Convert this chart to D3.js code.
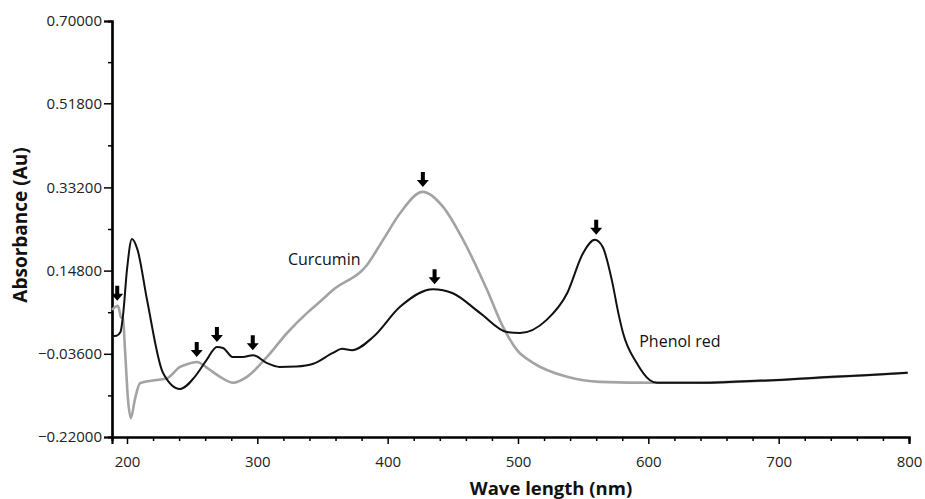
<!DOCTYPE html>
<html>
<head>
<meta charset="utf-8">
<title>absorbance</title>
<script type="text/javascript" src="https://d3js.org/d3.v7.js"></script>
<style>
  body { margin: 0; background: #fff; }
  text { font-family: "Open Sans", sans-serif; }
</style>
</head>
<body>
<script type="text/javascript">
const width = 925;
const height = 499;

// wavelength (nm) / absorbance pairs
const phenolNm = [188.5, 192, 195, 197, 200, 203.8, 208, 215.4, 227.6, 240.7, 252, 261, 269, 273.7, 281, 289, 296.7, 307, 317, 330, 343, 358, 365, 372.7, 388.8, 409.5, 434.8, 450, 471, 491.6, 501.6, 522, 537.7, 550, 559, 565, 572, 577, 580.6, 591, 601, 606.7, 640, 665, 700, 741.8, 770, 799];
const phenolAbs = [0.003, 0.004, 0.012, 0.050, 0.150, 0.218, 0.195, 0.083, -0.078, -0.114, -0.087, -0.050, -0.021, -0.023, -0.043, -0.043, -0.039, -0.056, -0.065, -0.064, -0.058, -0.034, -0.025, -0.028, 0.001, 0.068, 0.107, 0.098, 0.054, 0.012, 0.010, 0.039, 0.098, 0.187, 0.216, 0.200, 0.127, 0.054, 0.010, -0.056, -0.094, -0.100, -0.100, -0.098, -0.094, -0.087, -0.083, -0.078];

const curcuminNm = [188.5, 191, 193.1, 195.4, 196.9, 198.5, 200.8, 203, 206, 210, 223, 230.7, 240.7, 246, 253.7, 261.4, 271.4, 281.4, 292, 307.4, 322.8, 338, 348, 358, 384, 396.5, 409.5, 427, 442.5, 457.9, 476.3, 488.6, 499.3, 511.6, 537.7, 563, 606.7, 640, 665, 700, 741.8, 770, 799];
const curcuminAbs = [0.061, 0.068, 0.070, 0.045, 0.043, -0.028, -0.138, -0.178, -0.138, -0.101, -0.094, -0.090, -0.065, -0.059, -0.054, -0.067, -0.087, -0.100, -0.087, -0.043, 0.010, 0.054, 0.079, 0.105, 0.160, 0.216, 0.275, 0.322, 0.289, 0.216, 0.105, 0.023, -0.028, -0.056, -0.087, -0.098, -0.100, -0.100, -0.098, -0.094, -0.087, -0.083, -0.078];

// arrows marking the peaks
const arrowNm = [192.5, 253.5, 269, 296.5, 427, 436, 560];
const arrowAbs = [0.070, -0.054, -0.021, -0.039, 0.322, 0.107, 0.216];

const yTicks = [-0.22, -0.036, 0.148, 0.332, 0.518, 0.70];
const xTicks = [200, 300, 400, 500, 600, 700, 800];

const svg = d3.select("body")
    .append("svg")
    .attr("width", width)
    .attr("height", height);

const x = d3.scaleLinear().domain([188.5, 800]).range([112, 909]);
const y = d3.scaleLinear().domain([-0.22, 0.70]).range([437, 21]);

// minor ticks
const xMinor = d3.range(200, 801, 20).filter(d => d % 100 !== 0);
const yMinor = d3.range(5).map(i => (yTicks[i] + yTicks[i + 1]) / 2);

const xAxis = svg.append("g")
    .attr("transform", `translate(0,${y(-0.22)})`)
    .call(d3.axisBottom(x).tickValues(xTicks).tickSize(7).tickPadding(12).tickFormat(d3.format("d")));
const xAxisMinor = svg.append("g")
    .attr("transform", `translate(0,${y(-0.22)})`)
    .call(d3.axisBottom(x).tickValues(xMinor).tickSize(4).tickFormat(""));
const yAxis = svg.append("g")
    .attr("transform", `translate(${x(188.5)},0)`)
    .call(d3.axisLeft(y).tickValues(yTicks).tickSize(8).tickPadding(2).tickFormat(d3.format(".5f")));
const yAxisMinor = svg.append("g")
    .attr("transform", `translate(${x(188.5)},0)`)
    .call(d3.axisLeft(y).tickValues(yMinor).tickSize(4).tickFormat(""));

[xAxis, xAxisMinor, yAxis, yAxisMinor].forEach(g => {
  g.select(".domain").attr("stroke", "#000").attr("stroke-width", 2.2);
  g.selectAll(".tick line").attr("stroke", "#000").attr("stroke-width", 1.5);
  g.selectAll("text").attr("font-size", 15).attr("fill", "#222")
    .style("font-family", "'Open Sans', sans-serif");
});

const line = d3.line()
    .x(d => x(d[0]))
    .y(d => y(d[1]))
    .curve(d3.curveMonotoneX);

svg.append("path")
    .datum(d3.zip(curcuminNm, curcuminAbs))
    .attr("fill", "none")
    .attr("stroke", "#a3a3a3")
    .attr("stroke-width", 2.6)
    .attr("d", line);

svg.append("path")
    .datum(d3.zip(phenolNm, phenolAbs))
    .attr("fill", "none")
    .attr("stroke", "#111")
    .attr("stroke-width", 2)
    .attr("d", line);

// peak arrows, tip a little above the curve
const arrowPath = "M0,0 L-6,-7 L-2,-7 L-2,-15 L2,-15 L2,-7 L6,-7 Z";
svg.selectAll(".arrow")
  .data(d3.zip(arrowNm, arrowAbs))
  .enter().append("path")
    .attr("class", "arrow")
    .attr("d", arrowPath)
    .attr("fill", "#000")
    .attr("transform", d => `translate(${x(d[0])},${y(d[1]) - 5})`);

svg.append("text")
    .attr("x", x(323.5))
    .attr("y", y(0.160))
    .attr("font-size", 16)
    .attr("fill", "#111")
    .text("Curcumin");

svg.append("text")
    .attr("x", x(593))
    .attr("y", y(-0.021))
    .attr("font-size", 16)
    .attr("fill", "#111")
    .text("Phenol red");

svg.append("text")
    .attr("x", 551)
    .attr("y", 495)
    .attr("text-anchor", "middle")
    .attr("font-size", 18.5)
    .attr("font-weight", "bold")
    .attr("fill", "#111")
    .text("Wave length (nm)");

svg.append("text")
    .attr("transform", "translate(27,225) rotate(-90)")
    .attr("text-anchor", "middle")
    .attr("font-size", 19)
    .attr("font-weight", "bold")
    .attr("fill", "#111")
    .text("Absorbance (Au)");
</script>
</body>
</html>
